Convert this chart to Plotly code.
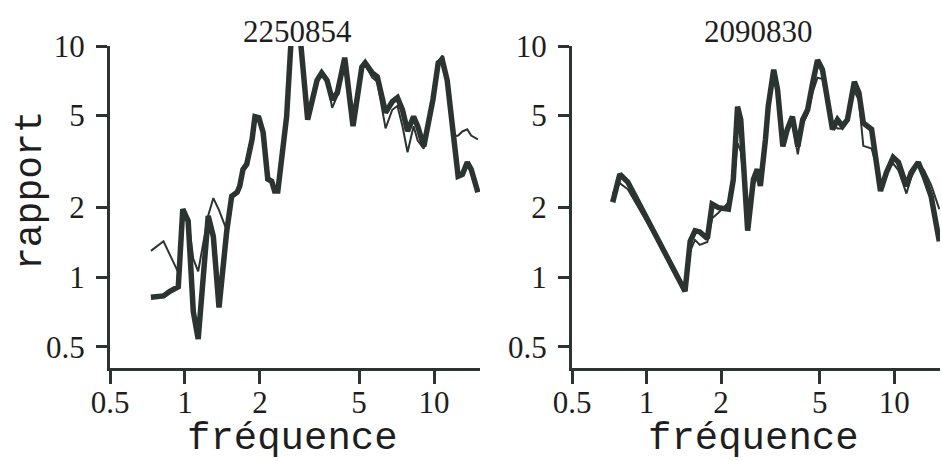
import numpy as np
import plotly.graph_objects as go

# Station 2250854: frequency grid and the two spectral ratio curves
freq_a = [0.73, 0.82, 0.87, 0.94, 0.98, 1.03, 1.08, 1.13, 1.24, 1.30, 1.37, 1.47,
          1.54, 1.62, 1.66, 1.71, 1.77, 1.86, 1.91, 1.98, 2.06, 2.15, 2.23, 2.29,
          2.36, 2.47, 2.56, 2.68, 2.78, 2.90, 3.11, 3.39, 3.54, 3.72, 3.90, 4.09,
          4.38, 4.73, 5.13, 5.29, 5.65, 5.92, 6.39, 6.80, 7.13, 7.47, 7.83, 8.28,
          8.60, 9.10, 9.90, 10.4, 10.8, 11.3, 12.0, 12.5, 13.0, 13.6, 14.1, 15.0]
thick_a = [0.82, 0.83, 0.87, 0.91, 1.97, 1.75, 0.71, 0.54, 1.84, 1.50, 0.74, 1.57,
           2.24, 2.33, 2.48, 2.93, 3.08, 3.95, 4.95, 4.90, 4.23, 2.66, 2.60, 2.36,
           2.36, 3.47, 4.95, 11.5, 14.0, 11.0, 4.80, 7.10, 7.65, 7.10, 5.86, 6.28,
           8.90, 4.50, 8.10, 8.45, 7.65, 7.35, 5.15, 5.75, 5.98, 5.30, 4.28, 4.95,
           4.50, 3.68, 5.86, 8.45, 8.70, 7.10, 3.95, 2.73, 2.78, 3.14, 2.93, 2.33]
thin_a = [1.30, 1.43, 1.25, 1.05, 1.90, 1.80, 1.20, 1.06, 1.85, 2.20, 1.95, 1.60,
          2.24, 2.33, 2.48, 2.93, 3.08, 3.95, 4.95, 4.90, 4.23, 2.66, 2.60, 2.36,
          2.36, 3.47, 4.95, 11.5, 14.0, 11.0, 4.80, 7.10, 7.65, 7.10, 5.40, 6.10,
          8.60, 5.20, 7.90, 8.30, 7.30, 7.00, 4.40, 5.30, 5.50, 4.50, 3.47, 4.50,
          3.90, 3.60, 5.90, 8.60, 9.10, 7.30, 4.06, 4.10, 4.27, 4.36, 4.10, 3.95]

# Station 2090830
freq_b = [0.73, 0.78, 0.84, 1.43, 1.50, 1.57, 1.64, 1.76, 1.84, 1.95, 2.14, 2.24,
          2.33, 2.40, 2.56, 2.70, 2.80, 2.88, 3.02, 3.10, 3.26, 3.38, 3.55, 3.70,
          3.88, 4.08, 4.27, 4.47, 4.68, 4.90, 5.13, 5.37, 5.63, 5.90, 6.18, 6.47,
          6.90, 7.20, 7.50, 8.10, 8.50, 8.80, 9.30, 9.90, 10.4, 11.2, 11.7, 12.5,
          13.2, 14.1, 15.2]
thick_b = [2.11, 2.79, 2.58, 0.87, 1.43, 1.59, 1.57, 1.47, 2.07, 2.00, 1.97, 2.65,
           5.47, 4.80, 1.59, 2.65, 2.93, 2.48, 3.95, 5.50, 7.90, 6.47, 3.68, 4.36,
           4.95, 3.68, 4.80, 5.30, 6.90, 8.70, 7.90, 5.86, 4.36, 4.80, 4.50, 4.80,
           7.00, 6.28, 4.65, 4.36, 3.14, 2.36, 2.84, 3.30, 3.14, 2.48, 2.84, 3.14,
           2.73, 2.23, 1.43]
thin_b = [2.30, 2.55, 2.40, 0.90, 1.30, 1.45, 1.38, 1.42, 1.80, 1.90, 2.10, 2.50,
          3.80, 3.50, 1.85, 2.50, 2.70, 2.60, 3.70, 5.20, 7.60, 6.30, 3.90, 4.50,
          4.60, 3.40, 4.60, 5.10, 6.30, 7.30, 7.20, 5.60, 4.60, 4.40, 4.40, 5.00,
          6.40, 5.80, 3.70, 3.60, 3.00, 2.50, 2.90, 3.10, 2.90, 2.30, 2.70, 3.10,
          2.90, 2.50, 1.97]

station_names = ["2250854", "2090830"]
tick_vals = [0.5, 1, 2, 5, 10]
tick_text = ["0.5", "1", "2", "5", "10"]

INK = "#2b3431"
TEXT = "#1e1e1e"
CLEAR = "rgba(0,0,0,0)"
SERIF = "Liberation Serif, Times New Roman, serif"
MONO = "Liberation Mono, Courier New, monospace"

W, H = 942, 461
y_top, y_bot = 46, 368
ydom = [1 - y_bot / H, 1 - y_top / H]
xdoms = [[110 / W, 480 / W], [572 / W, 940 / W]]
xrange_log = [np.log10(0.5), np.log10(15.3)]
yrange_log = [np.log10(0.405), 1.0]

fig = go.Figure()

# thick curve on the frame axes, thin curve on the label axes laid over them
panels = [(freq_a, thick_a, thin_a, ("x", "y"), ("x3", "y3")),
          (freq_b, thick_b, thin_b, ("x2", "y2"), ("x4", "y4"))]
for f, thick, thin, (xa, ya), (xo, yo) in panels:
    fig.add_trace(go.Scatter(x=f, y=thick, mode="lines", xaxis=xa, yaxis=ya,
                             line=dict(color=INK, width=5.5), showlegend=False,
                             hoverinfo="skip"))
    fig.add_trace(go.Scatter(x=f, y=thin, mode="lines", xaxis=xo, yaxis=yo,
                             line=dict(color=INK, width=2), showlegend=False,
                             hoverinfo="skip"))

base = dict(type="log", tickvals=tick_vals, ticktext=tick_text, showgrid=False,
            zeroline=False, automargin=False)
tfont = dict(family=SERIF, size=31, color=TEXT)

# frame axes: lines and tick marks
xframe = dict(base, range=xrange_log, ticks="outside", ticklen=13, tickwidth=2.5,
              tickcolor=INK, showline=True, linewidth=3, linecolor=INK,
              showticklabels=False)
yframe = dict(base, range=yrange_log, ticks="outside", ticklen=11, tickwidth=2.5,
              tickcolor=INK, showline=True, linewidth=3, linecolor=INK,
              showticklabels=False)
# label axes: invisible ticks that set how far the labels sit from the frame
xlab = dict(base, range=xrange_log, ticks="outside", ticklen=7, tickcolor=CLEAR,
            showline=False, tickfont=tfont)
ylab = dict(base, range=yrange_log, ticks="outside", ticklen=18, tickcolor=CLEAR,
            showline=False, tickfont=tfont)

fig.update_layout(
    width=W, height=H,
    margin=dict(l=0, r=0, t=0, b=0, autoexpand=False),
    paper_bgcolor="white", plot_bgcolor="white",
    xaxis=dict(xframe, domain=xdoms[0], anchor="y"),
    yaxis=dict(yframe, domain=ydom, anchor="x"),
    xaxis2=dict(xframe, domain=xdoms[1], anchor="y2"),
    yaxis2=dict(yframe, domain=ydom, anchor="x2"),
    xaxis3=dict(xlab, overlaying="x", anchor="y3"),
    yaxis3=dict(ylab, overlaying="y", anchor="x3"),
    xaxis4=dict(xlab, overlaying="x2", anchor="y4"),
    yaxis4=dict(ylab, overlaying="y2", anchor="x4"),
)

annotations = []
for dom, name in zip(xdoms, station_names):
    cx = (dom[0] + dom[1]) / 2
    annotations.append(dict(x=cx + 2 / W, y=1 - 31 / H, xref="paper", yref="paper",
                            text=name, showarrow=False, xanchor="center",
                            yanchor="middle",
                            font=dict(family=SERIF, size=31, color=TEXT)))
    annotations.append(dict(x=cx - 3 / W, y=0, xref="paper", yref="paper",
                            text="fréquence", showarrow=False, xanchor="center",
                            yanchor="bottom", yshift=-2,
                            font=dict(family=MONO, size=39, color=TEXT)))
annotations.append(dict(x=30 / W, y=1 - 190 / H, xref="paper", yref="paper",
                        text="rapport", showarrow=False, textangle=-90,
                        xanchor="center", yanchor="middle",
                        font=dict(family=MONO, size=38, color=TEXT)))
fig.update_layout(annotations=annotations)

fig.write_html("out.html")
